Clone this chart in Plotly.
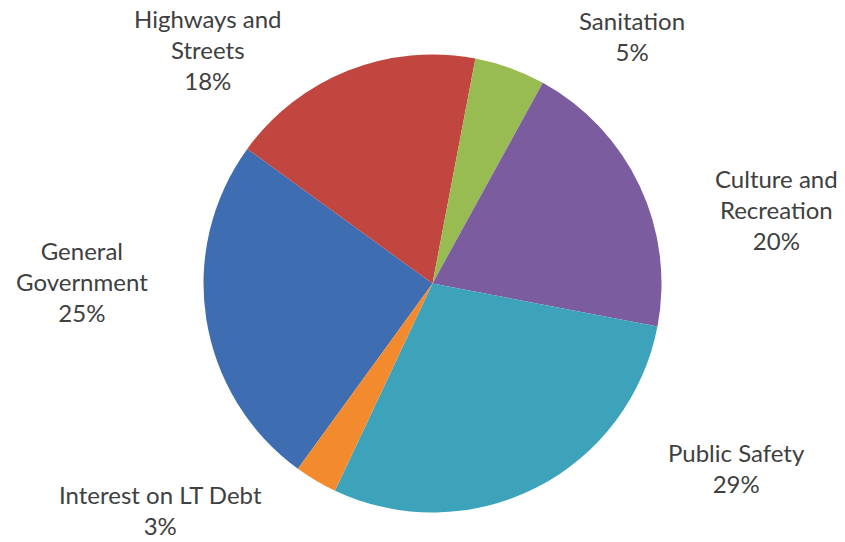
import plotly.graph_objects as go

# Expenditure shares by function (percent)
categories = ["General<br>Government", "Highways and<br>Streets", "Sanitation",
              "Culture and<br>Recreation", "Public Safety", "Interest on LT Debt"]
shares = [25, 18, 5, 20, 29, 3]
slice_colors = ["#3F6DB1", "#C0463F", "#98BB52", "#7B5C9F", "#3CA3BB", "#F38A2E"]

# Label anchor points in pixels (x, y from top)
label_pos = [(82, 281), (208, 50), (632, 36), (776, 209), (736, 468), (160, 510)]

W, H = 845, 542
cx, cy, r = 432.5, 283.5, 229

fig = go.Figure(go.Pie(
    labels=categories,
    values=shares,
    sort=False,
    direction="clockwise",
    rotation=216,
    marker=dict(colors=slice_colors, line=dict(width=0)),
    textinfo="none",
    hoverinfo="label+percent",
    showlegend=False,
    domain=dict(x=[(cx - r) / W, (cx + r) / W],
                y=[(H - cy - r) / H, (H - cy + r) / H]),
))

for name, val, (lx, ly) in zip(categories, shares, label_pos):
    fig.add_annotation(
        x=lx / W, y=1 - ly / H, xref="paper", yref="paper",
        text=f"{name}<br>{val}%", showarrow=False,
        xanchor="center", yanchor="middle", align="center",
        font=dict(family="Lato", size=24, color="#404040"),
    )

fig.update_layout(
    width=W, height=H,
    margin=dict(l=0, r=0, t=0, b=0),
    paper_bgcolor="white", plot_bgcolor="white",
)

fig.write_html("out.html")
